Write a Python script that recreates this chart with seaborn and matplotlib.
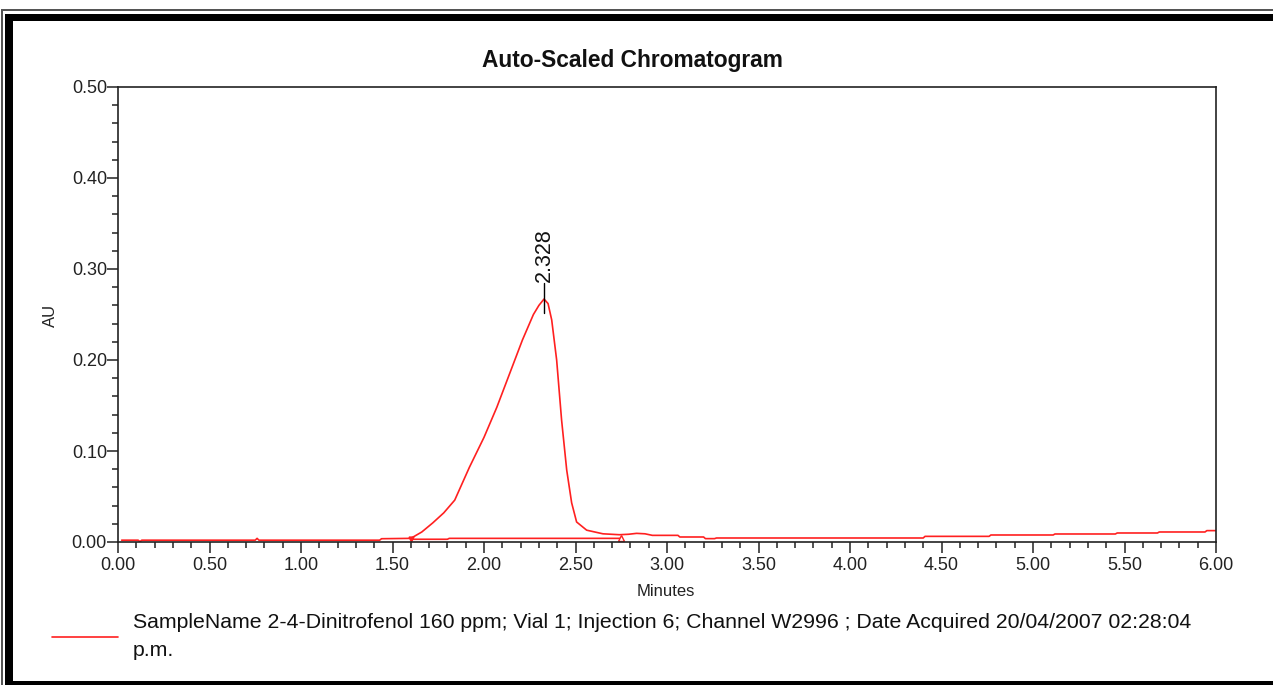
import numpy as np
import pandas as pd
import matplotlib
matplotlib.use("Agg")
import matplotlib.pyplot as plt
from matplotlib.patches import Rectangle
from matplotlib.lines import Line2D
from matplotlib.ticker import MultipleLocator
import seaborn as sns

# ---- data ----
trace_minutes = [0.02, 0.11, 0.12, 0.13, 0.42, 0.75, 0.76, 0.77, 1.43, 1.44,
                 1.60, 1.66, 1.72, 1.78, 1.84, 1.92, 2.00, 2.07, 2.14, 2.21,
                 2.27, 2.30, 2.328, 2.35, 2.37, 2.397, 2.424, 2.452, 2.479, 2.506,
                 2.561, 2.65, 2.74, 2.79, 2.834, 2.88, 2.92, 3.06, 3.07, 3.20,
                 3.21, 3.26, 3.27, 4.40, 4.41, 4.76, 4.77, 5.11, 5.12, 5.45,
                 5.46, 5.68, 5.69, 5.94, 5.95, 6.00]
trace_au = [0.002, 0.002, 0.0005, 0.002, 0.002, 0.002, 0.004, 0.002, 0.002, 0.0036,
            0.004, 0.011, 0.021, 0.032, 0.046, 0.082, 0.115, 0.148, 0.185, 0.222,
            0.250, 0.260, 0.267, 0.262, 0.244, 0.200, 0.134, 0.079, 0.043, 0.022,
            0.013, 0.009, 0.008, 0.0085, 0.0095, 0.009, 0.0073, 0.0073, 0.0055, 0.0055,
            0.0037, 0.0037, 0.0044, 0.0044, 0.0062, 0.0062, 0.0077, 0.0077, 0.0088, 0.0088,
            0.0099, 0.0099, 0.011, 0.011, 0.0125, 0.0125]

baseline_minutes = [1.60, 1.80, 1.81, 2.75]
baseline_au = [0.003, 0.003, 0.004, 0.004]

peak_rt = 2.328
peak_au = 0.267
peak_label = "2.328"

title = "Auto-Scaled Chromatogram"
x_label = "Minutes"
y_label = "AU"
legend_label = ("SampleName 2-4-Dinitrofenol 160 ppm; Vial 1; Injection 6; Channel W2996 ; "
                "Date Acquired 20/04/2007 02:28:04\np.m.")

W, H = 1273, 685
sns.set_style("ticks")
plt.rcParams['font.family'] = ['Liberation Sans', 'DejaVu Sans']

fig = plt.figure(figsize=(W / 100, H / 100), dpi=100)
fig.patch.set_facecolor("white")
ax = fig.add_axes([118 / W, 1 - 542 / H, (1216 - 118) / W, (542 - 87) / H])
ax.set_facecolor("white")

red = "#ff2020"
df = pd.DataFrame({"Minutes": trace_minutes, "AU": trace_au})
sns.lineplot(data=df, x="Minutes", y="AU", ax=ax, color=red, lw=1.2,
             sort=False, estimator=None)
bdf = pd.DataFrame({"Minutes": baseline_minutes, "AU": baseline_au})
sns.lineplot(data=bdf, x="Minutes", y="AU", ax=ax, color=red, lw=1.2,
             sort=False, estimator=None)
ax.plot([baseline_minutes[0]], [baseline_au[0]], marker="v", ms=3.5, color=red)
ax.plot([baseline_minutes[-1]], [baseline_au[-1]], marker="^", ms=5,
        mfc="white", mec=red, mew=1)

# peak annotation
ax.plot([peak_rt, peak_rt], [peak_au - 0.015, peak_au + 0.018], color="black", lw=1)
ax.text(peak_rt, peak_au + 0.019, peak_label, rotation=90, ha="center", va="bottom",
        fontsize=15.5, color="#111111")

ax.set_xlim(0, 6)
ax.set_ylim(0, 0.5)
ax.xaxis.set_major_locator(MultipleLocator(0.5))
ax.xaxis.set_minor_locator(MultipleLocator(0.1))
ax.yaxis.set_major_locator(MultipleLocator(0.1))
ax.yaxis.set_minor_locator(MultipleLocator(0.02))
ax.xaxis.set_major_formatter(lambda v, p: f"{v:.2f}")
ax.yaxis.set_major_formatter(lambda v, p: f"{v:.2f}")
ax.tick_params(axis="both", which="major", length=8, width=1.1, labelsize=13,
               colors="#222222", direction="out")
ax.tick_params(axis="both", which="minor", length=4.5, width=1.1, direction="out",
               color="#222222")
ax.tick_params(axis="y", which="major", pad=0)
ax.tick_params(axis="x", which="major", pad=3)
for s in ax.spines.values():
    s.set_visible(True)
    s.set_linewidth(1.2)
    s.set_color("#222222")

ax.set_xlabel(x_label, fontsize=12, color="#222222")
ax.set_ylabel(y_label, fontsize=12, color="#222222")
ax.xaxis.set_label_coords((666 - 118) / (1216 - 118), -(591 - 542) / (542 - 87))
ax.yaxis.set_label_coords((50 - 118) / (1216 - 118), (542 - 315) / (542 - 87))
ax.xaxis.label.set_va("center")
ax.yaxis.label.set_va("center")

fig.text(632 / W, 1 - 60 / H, title, ha="center", va="center",
         fontsize=16.4, fontweight="bold", color="#111111")

handle = Line2D([], [], color=red, lw=1.2)
leg = ax.legend([handle], [legend_label], loc="center left",
                bbox_to_anchor=(52 / W, 1 - 637 / H), bbox_transform=fig.transFigure,
                frameon=False, fontsize=15.3, handlelength=3.1, handletextpad=0.7,
                borderpad=0, borderaxespad=0)
for t in leg.get_texts():
    t.set_color("#111111")
    t.set_linespacing(1.6)

# outer report frame
def frect(x0, y0, x1, y1, **kw):
    fig.patches.append(Rectangle((x0 / W, 1 - y1 / H), (x1 - x0) / W, (y1 - y0) / H,
                                 transform=fig.transFigure, **kw))

frect(1, 9, W, 11, color="#555555", lw=0)       # thin top line
frect(1, 9, 3, H, color="#555555", lw=0)        # thin left line
frect(5, 14, W, 21, color="black", lw=0)        # thick top
frect(5, 14, 13, H, color="black", lw=0)        # thick left
frect(5, 681, W, H, color="black", lw=0)        # thick bottom

fig.savefig("out.png", dpi=100)
